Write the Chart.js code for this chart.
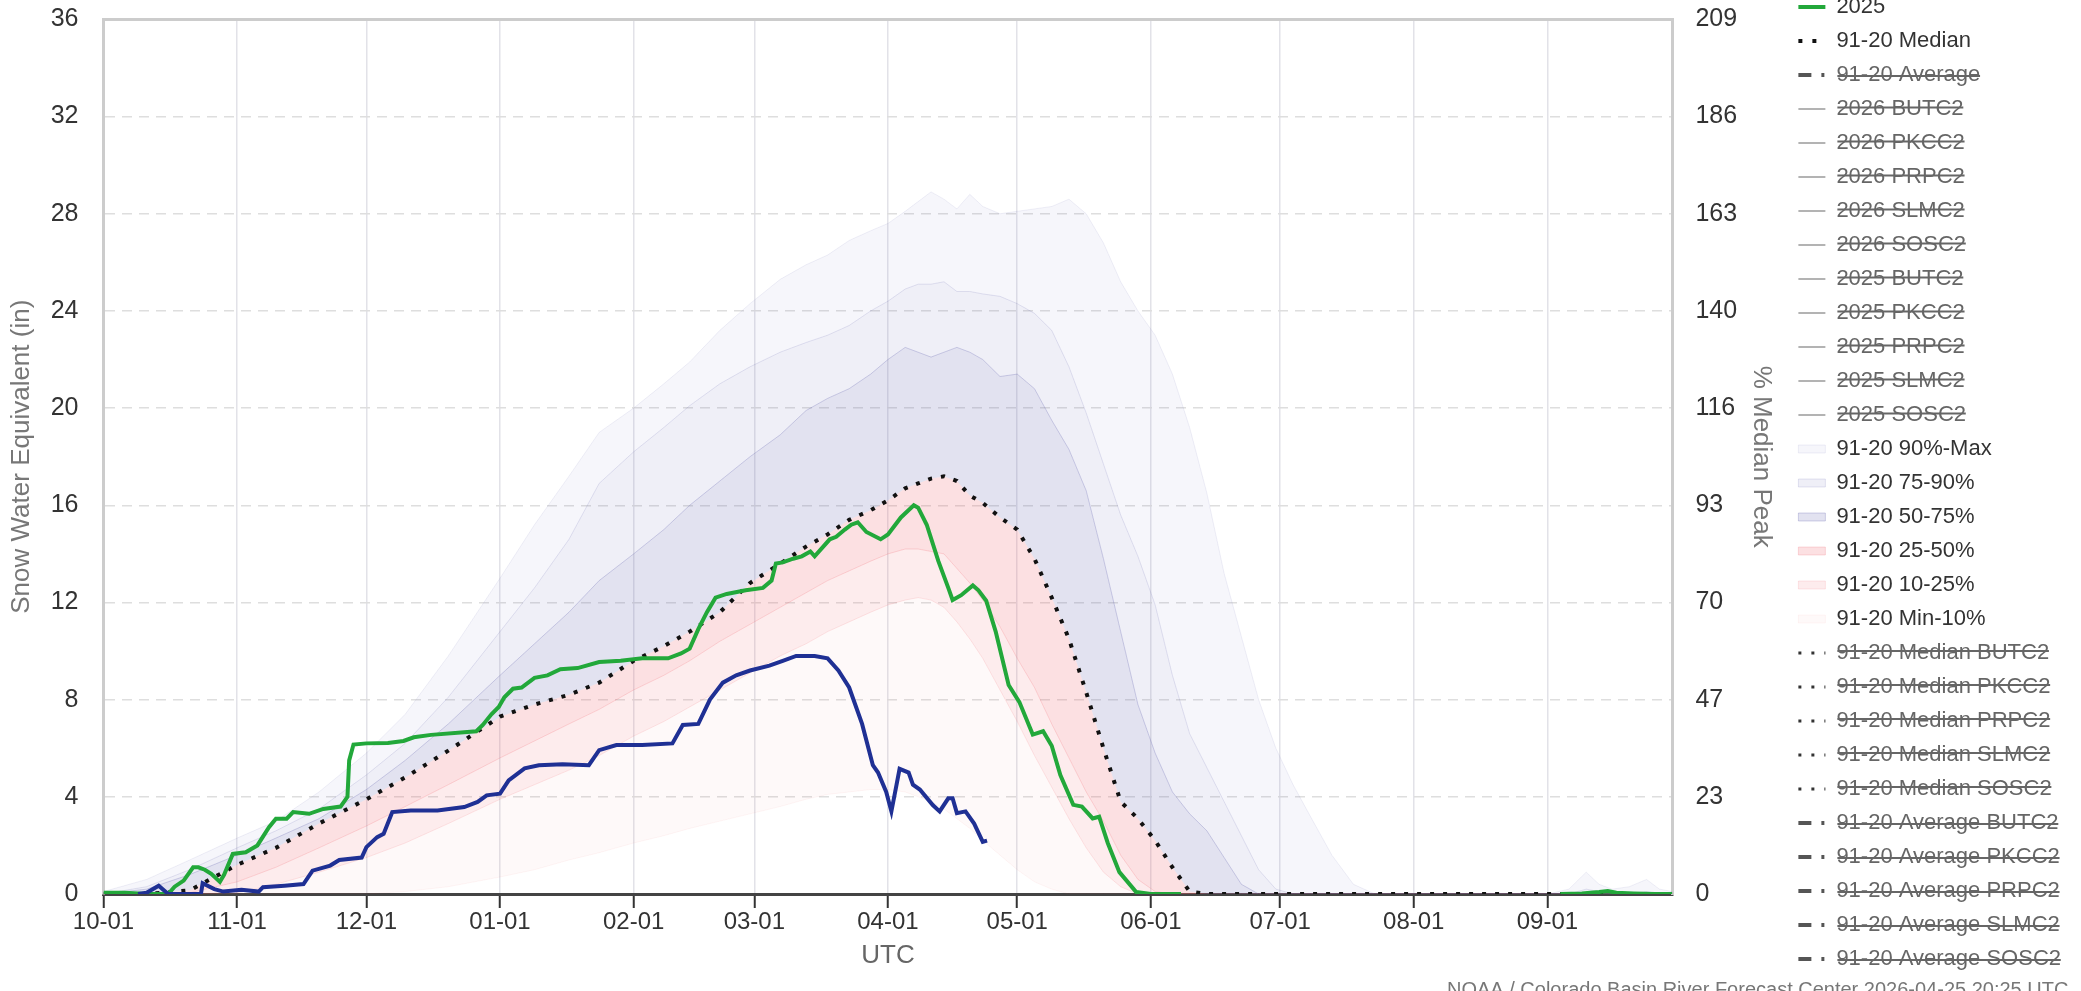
<!DOCTYPE html>
<html>
<head>
<meta charset="utf-8">
<script src="https://cdn.jsdelivr.net/npm/chart.js@4.4.1/dist/chart.umd.min.js"></script>
<style>
  body { margin: 0; overflow: hidden; background: #fff; }
  #wrap { position: absolute; left: 0; top: -50px; width: 2081px; height: 1060px; }
</style>
</head>
<body>
<div id="wrap"><canvas id="myChart"></canvas></div>
<script>
// x axis: days since Oct 1 of the water year
const monthStartDays = [0, 31, 61, 92, 123, 151, 182, 212, 243, 273, 304, 335];
const monthLabels = ["10-01", "11-01", "12-01", "01-01", "02-01", "03-01", "04-01", "05-01", "06-01", "07-01", "08-01", "09-01"];
const stations = ["BUTC2", "PKCC2", "PRPC2", "SLMC2", "SOSC2"];

// 1991-2020 percentile curves, all on one day grid
const bandDays = [0, 10, 20, 31, 40, 50, 61, 70, 80, 92,
    100, 108, 115, 123, 130, 136, 143, 150, 157, 163,
    168, 173, 178, 182, 186, 189, 192, 195, 198, 201,
    204, 208, 212, 216, 220, 224, 228, 232, 236, 240,
    244, 248, 252, 256, 260, 264, 268, 272, 276, 280,
    285, 290, 295, 335, 340, 344, 347, 350, 354, 358,
    361, 364];
const sweMax = [0.1, 0.6, 1.4, 2.3, 3.0, 4.2, 5.8, 7.4, 9.8, 13.0,
    15.2, 17.2, 19.0, 20.0, 21.0, 21.9, 23.2, 24.3, 25.3, 25.9,
    26.3, 26.9, 27.3, 27.6, 28.1, 28.5, 28.9, 28.6, 28.2, 28.8,
    28.3, 28.0, 28.1, 28.2, 28.3, 28.6, 28.0, 26.8, 25.2, 24.0,
    23.0, 21.4, 19.2, 16.5, 13.2, 10.6, 8.0, 6.0, 4.5, 3.2,
    1.6, 0.4, 0, 0, 0.2, 0.9, 0.4, 0.2, 0.3, 0.6,
    0.2, 0.1];
const swe90 = [0, 0.3, 1.0, 1.9, 2.6, 3.5, 4.9, 6.2, 8.1, 10.8,
    12.6, 14.6, 16.9, 18.2, 19.2, 20.1, 21.0, 21.7, 22.3, 22.7,
    23.0, 23.4, 24.0, 24.4, 24.9, 25.1, 25.1, 25.2, 24.8, 24.8,
    24.7, 24.6, 24.3, 23.9, 23.2, 21.7, 19.8, 17.7, 15.6, 13.9,
    11.9, 9.0, 6.6, 5.2, 3.8, 2.4, 1.0, 0.2, 0, 0,
    0, 0, 0, 0, 0, 0.2, 0.1, 0, 0, 0.1,
    0, 0];
const swe75 = [0, 0.2, 0.8, 1.6, 2.3, 3.1, 4.3, 5.5, 7.0, 9.0,
    10.3, 11.6, 12.9, 14.0, 15.0, 16.0, 17.0, 18.0, 18.9, 19.9,
    20.4, 20.8, 21.4, 22.0, 22.5, 22.3, 22.1, 22.3, 22.5, 22.3,
    22.0, 21.3, 21.4, 20.8, 19.5, 18.3, 16.6, 13.8, 10.8, 7.8,
    5.8, 4.2, 3.3, 2.6, 1.5, 0.4, 0, 0, 0, 0,
    0, 0, 0, 0, 0, 0, 0, 0, 0, 0,
    0, 0];
const sweMedian = [0, 0, 0.15, 1.2, 1.9, 2.9, 3.9, 4.8, 5.9, 7.3,
    7.8, 8.2, 8.7, 9.6, 10.2, 10.8, 11.6, 12.8, 13.6, 14.3,
    14.8, 15.4, 15.8, 16.2, 16.7, 16.9, 17.1, 17.19, 17.0, 16.4,
    16.1, 15.5, 15.0, 13.8, 12.2, 10.5, 8.3, 6.0, 3.8, 3.1,
    2.2, 1.1, 0.1, 0, 0, 0, 0, 0, 0, 0,
    0, 0, 0, 0, 0, 0, 0, 0, 0, 0,
    0, 0];
const swe25 = [0, 0, 0.05, 0.5, 1.1, 1.9, 2.8, 3.6, 4.5, 5.6,
    6.3, 7.0, 7.6, 8.4, 9.0, 9.6, 10.4, 11.1, 11.8, 12.4,
    12.9, 13.3, 13.7, 14.0, 14.2, 14.2, 14.1, 14.0, 13.4, 12.8,
    12.1, 11.0, 9.7, 8.5, 7.0, 5.6, 4.2, 3.0, 1.6, 0.6,
    0.1, 0, 0, 0, 0, 0, 0, 0, 0, 0,
    0, 0, 0, 0, 0, 0, 0, 0, 0, 0,
    0, 0];
const swe10 = [0, 0, 0, 0.05, 0.4, 0.9, 1.5, 2.1, 2.9, 3.9,
    4.5, 5.1, 5.7, 6.5, 7.1, 7.7, 8.4, 9.1, 9.8, 10.3,
    10.8, 11.2, 11.6, 11.9, 12.1, 12.2, 12.1, 11.8, 11.2, 10.5,
    9.7, 8.4, 7.1, 5.7, 4.4, 3.1, 1.9, 0.9, 0.3, 0,
    0, 0, 0, 0, 0, 0, 0, 0, 0, 0,
    0, 0, 0, 0, 0, 0, 0, 0, 0, 0,
    0, 0];
const sweMin = [0, 0, 0, 0, 0, 0, 0, 0.1, 0.3, 0.7,
    1.0, 1.4, 1.7, 2.1, 2.4, 2.7, 3.0, 3.3, 3.6, 3.9,
    4.1, 4.2, 4.3, 4.3, 4.2, 4.0, 3.8, 3.5, 3.1, 2.7,
    2.2, 1.6, 1.0, 0.5, 0.2, 0, 0, 0, 0, 0,
    0, 0, 0, 0, 0, 0, 0, 0, 0, 0,
    0, 0, 0, 0, 0, 0, 0, 0, 0, 0,
    0, 0];

// water year 2025
const days2025 = [0, 5, 10, 15, 16.5, 18.6, 20.8, 22, 23.5, 25,
    27, 28, 30, 33, 35.7, 38.4, 40, 42.5, 44, 47.7,
    51, 55, 56.6, 57, 58, 61, 66, 69.6, 72, 76,
    86.5, 88, 90, 91.7, 93, 95, 97, 100, 103, 106,
    110, 115, 120, 125, 131, 134, 136, 138, 140, 142,
    144.6, 149, 153, 155, 156, 157.6, 160, 162, 164, 165,
    168.5, 170, 172, 173.5, 175, 177, 180.3, 182, 185, 188,
    189, 191, 193.7, 196, 197, 199, 201.7, 203, 204.8, 207,
    210, 212.5, 215.6, 218, 220, 222, 225, 227, 229.5, 231,
    233, 235.7, 239.6, 243, 250, 251, 338, 343, 347, 349,
    351, 355, 360, 364];
const swe2025 = [0.05, 0.05, 0, 0, 0.3, 0.55, 1.1, 1.1, 1.0, 0.83,
    0.5, 0.8, 1.65, 1.72, 2.0, 2.75, 3.1, 3.1, 3.37, 3.3,
    3.5, 3.6, 4.0, 5.5, 6.15, 6.2, 6.22, 6.3, 6.45, 6.55,
    6.7, 6.96, 7.4, 7.7, 8.1, 8.45, 8.5, 8.9, 9.0, 9.25,
    9.3, 9.55, 9.6, 9.7, 9.7, 9.9, 10.1, 10.9, 11.6, 12.2,
    12.35, 12.5, 12.6, 12.9, 13.6, 13.65, 13.8, 13.9, 14.1, 13.9,
    14.6, 14.7, 15.0, 15.2, 15.3, 14.9, 14.6, 14.8, 15.5, 16.0,
    15.9, 15.2, 13.7, 12.6, 12.1, 12.3, 12.7, 12.5, 12.07, 10.8,
    8.6, 7.9, 6.56, 6.7, 6.1, 4.9, 3.67, 3.6, 3.11, 3.18,
    2.1, 0.9, 0.08, 0, 0, null, 0, 0.02, 0.08, 0.12,
    0.05, 0.02, 0, 0];

// water year 2026 (to date)
const days2026 = [8, 10, 12.8, 15, 22.6, 23, 25.7, 27.8, 32, 36,
    37, 42, 46.4, 48.5, 52.6, 54.7, 59.9, 61, 63.5, 65,
    67, 71.3, 77.5, 83.7, 86.8, 88.9, 92, 94, 97.7, 101,
    106.5, 112.6, 115, 119, 125, 132, 134.4, 138, 140.7, 143.7,
    146.8, 150, 154.5, 157.6, 160.7, 165, 168, 170.5, 173, 176,
    178.5, 179.7, 181.6, 182.8, 184, 184.7, 186.8, 187.8, 189.4, 192.4,
    194, 196, 197, 198, 200, 202, 204, 205];
const swe2026 = [0, 0.05, 0.34, 0, 0, 0.44, 0.2, 0.1, 0.17, 0.1,
    0.28, 0.34, 0.41, 0.96, 1.17, 1.4, 1.5, 1.93, 2.34, 2.48,
    3.37, 3.44, 3.44, 3.58, 3.79, 4.06, 4.13, 4.68, 5.17, 5.3,
    5.34, 5.3, 5.92, 6.13, 6.13, 6.2, 6.96, 7.0, 8.0, 8.7,
    9.0, 9.2, 9.4, 9.6, 9.8, 9.8, 9.7, 9.2, 8.5, 7.0,
    5.3, 5.0, 4.2, 3.4, 4.5, 5.15, 5.0, 4.5, 4.3, 3.66,
    3.4, 3.94, 3.94, 3.33, 3.4, 2.9, 2.15, 2.2];

const creditText = "NOAA / Colorado Basin River Forecast Center 2026-04-25 20:25 UTC";

const medianPeak = Math.max(...sweMedian);


window.onload = () => {
    Chart.defaults.font.family = '"Liberation Sans", Arial, sans-serif';
    addChart();
}


function pts(days, values) {
    return days.map((d, i) => ({ x: d, y: values[i] }));
}

function line(label, days, values, color, width, dash, mark) {
    return {
        label: label,
        data: pts(days, values),
        borderColor: color,
        borderWidth: width,
        borderDash: dash,
        pointRadius: 0,
        tension: 0,
        fill: false,
        mark: mark
    }
}

function hiddenLine(label, mark) {
    return { label: label, data: [], hidden: true, pointRadius: 0, mark: mark };
}

function band(label, values, fillColor, lineColor) {
    return {
        label: label,
        data: pts(bandDays, values),
        backgroundColor: fillColor,
        borderColor: lineColor,
        borderWidth: 1,
        pointRadius: 0,
        tension: 0,
        mark: { style: "rect", fill: fillColor, color: lineColor, width: 1 }
    }
}


function addChart() {
    const stationMark = { style: "line", color: "#9a9a9a", width: 1.5 };
    const medianMark = { style: "line", color: "#111", width: 4, dash: [4, 10] };
    const avgMark = { style: "line", color: "#555", width: 4, dash: [13, 10, 3, 20] };

    const lav = a => "rgba(110, 110, 180, " + a + ")";
    const pink = a => "rgba(240, 100, 110, " + a + ")";

    const datasets = [
        line("2026", days2026, swe2026, "#1f3094", 4, [], { style: "line", color: "#1f3094", width: 4 }),
        line("2025", days2025, swe2025, "#22a83a", 4, [], { style: "line", color: "#22a83a", width: 4 }),
        line("91-20 Median", bandDays, sweMedian, "#111", 4, [4, 9], medianMark),
        hiddenLine("91-20 Average", avgMark),
        ...stations.map(s => hiddenLine("2026 " + s, stationMark)),
        ...stations.map(s => hiddenLine("2025 " + s, stationMark)),
        band("91-20 90%-Max", sweMax, lav(0.06), lav(0.1)),
        band("91-20 75-90%", swe90, lav(0.11), lav(0.18)),
        band("91-20 50-75%", swe75, lav(0.2), lav(0.3)),
        band("91-20 25-50%", swe25, pink(0.2), pink(0.22)),
        band("91-20 10-25%", swe10, pink(0.12), pink(0.15)),
        band("91-20 Min-10%", sweMin, pink(0.04), pink(0.06)),
        ...stations.map(s => hiddenLine("91-20 Median " + s, { style: "line", color: "#333", width: 3, dash: [3, 10] })),
        ...stations.map(s => hiddenLine("91-20 Average " + s, avgMark))
    ];

    // each band fills down to the next curve
    const idx = label => datasets.findIndex(d => d.label === label);
    datasets[idx("91-20 90%-Max")].fill = idx("91-20 75-90%");
    datasets[idx("91-20 75-90%")].fill = idx("91-20 50-75%");
    datasets[idx("91-20 50-75%")].fill = idx("91-20 Median");
    datasets[idx("91-20 25-50%")].fill = idx("91-20 Median");
    datasets[idx("91-20 10-25%")].fill = idx("91-20 25-50%");
    datasets[idx("91-20 Min-10%")].fill = idx("91-20 10-25%");

    const extras = {
        id: "extras",
        beforeDatasetsDraw(chart) {
            const { ctx, chartArea } = chart;
            ctx.save();
            ctx.strokeStyle = "#ccc";
            ctx.lineWidth = 3;
            ctx.beginPath();
            ctx.moveTo(chartArea.left - 1.5, chartArea.top);
            ctx.lineTo(chartArea.right + 1.5, chartArea.top);
            ctx.stroke();
            ctx.restore();
        },
        afterDraw(chart) {
            const ctx = chart.ctx;
            ctx.save();
            ctx.font = '20px "Liberation Sans", Arial, sans-serif';
            ctx.fillStyle = "#777";
            ctx.textBaseline = "middle";
            ctx.fillText(creditText, 1447, chart.height - 20);
            ctx.restore();
        }
    }

    const config = {
        type: "line",
        data: { datasets: datasets },
        plugins: [extras],
        options: {
            animation: false,
            responsive: true,
            maintainAspectRatio: false,
            layout: { padding: { left: 0, right: 10, top: 0, bottom: 13 } },
            plugins: {
                title: { display: true, text: " ", font: { size: 12 }, padding: { top: 55, bottom: 0 } },
                tooltip: { enabled: false },
                legend: {
                    position: "right",
                    align: "start",
                    labels: {
                        font: { size: 22 },
                        padding: 12,
                        usePointStyle: true,
                        pointStyleWidth: 27,
                        boxHeight: 8,
                        generateLabels: chart => chart.data.datasets.map((ds, i) => {
                            const shown = chart.isDatasetVisible(i);
                            return {
                                text: ds.label,
                                datasetIndex: i,
                                hidden: !shown,
                                fontColor: shown ? "#333" : "#666",
                                pointStyle: ds.mark.style,
                                fillStyle: ds.mark.fill || "transparent",
                                strokeStyle: ds.mark.color,
                                lineWidth: ds.mark.width,
                                lineDash: ds.mark.dash || [],
                                lineCap: "butt"
                            }
                        })
                    }
                }
            },
            scales: {
                x: {
                    type: "linear",
                    min: 0,
                    max: 364,
                    afterBuildTicks: scale => {
                        scale.ticks = monthStartDays.map(v => ({ value: v }));
                    },
                    afterFit: scale => { scale.height = 103; },
                    ticks: {
                        autoSkip: false,
                        maxRotation: 0,
                        padding: 0,
                        color: "#333",
                        font: { size: 24 },
                        callback: (v, i) => monthLabels[i]
                    },
                    grid: { color: "#e2e2e8", lineWidth: 1.5, tickColor: "#333", tickLength: 14, tickWidth: 2 },
                    border: { color: "#444", width: 3 },
                    title: { display: true, text: "UTC", color: "#666", font: { size: 26 }, padding: { top: 4, bottom: 26 } }
                },
                y: {
                    position: "left",
                    min: 0,
                    max: 36,
                    afterFit: scale => { scale.width = 103.5; },
                    ticks: { stepSize: 4, padding: 25, color: "#333", font: { size: 25 } },
                    grid: { color: "#dedede", lineWidth: 1.5, drawTicks: false },
                    border: { color: "#ccc", width: 3, dash: [10, 7] },
                    title: { display: true, text: "Snow Water Equivalent (in)", color: "#777", font: { size: 26 }, padding: { top: 6, bottom: 0 } }
                },
                y2: {
                    position: "right",
                    min: 0,
                    max: 36,
                    afterFit: scale => { scale.width = 114; },
                    ticks: {
                        stepSize: 4,
                        padding: 23,
                        color: "#333",
                        font: { size: 25 },
                        callback: v => Math.round(v / medianPeak * 100)
                    },
                    grid: { drawOnChartArea: false, drawTicks: false },
                    border: { color: "#ccc", width: 3 },
                    title: { display: true, text: "% Median Peak", color: "#777", font: { size: 26 }, padding: { top: 10, bottom: 0 } }
                }
            }
        }
    }

    const ctx = document.getElementById("myChart").getContext("2d");
    const myChart = new Chart(ctx, config);
}
</script>
</body>
</html>
